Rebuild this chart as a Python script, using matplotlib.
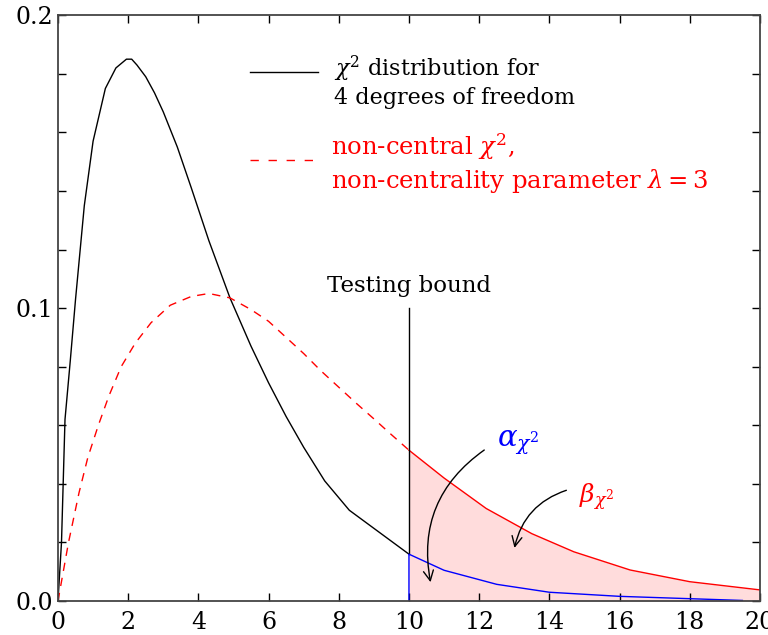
import numpy as np
import matplotlib
matplotlib.use('Agg')
import matplotlib.pyplot as plt
from matplotlib.ticker import MultipleLocator, FixedLocator, FixedFormatter

plt.rcParams['font.family'] = 'DejaVu Serif'
plt.rcParams['mathtext.fontset'] = 'dejavuserif'

# chi^2 pdf, 4 degrees of freedom
chi_x = [0, 0.1, 0.2, 0.35, 0.5, 0.75, 1.0, 1.35, 1.65, 1.95, 2.1, 2.25, 2.5, 2.75, 3.0, 3.4, 3.8, 4.3, 4.9, 5.5, 6.0, 6.5, 7.0, 7.6, 8.3, 10.0]
chi_y = [0, 0.020, 0.062, 0.082, 0.103, 0.135, 0.157, 0.175, 0.182, 0.185, 0.185, 0.183, 0.179, 0.1735, 0.167, 0.155, 0.141, 0.123, 0.1035, 0.087, 0.0745, 0.063, 0.0525, 0.041, 0.031, 0.016]

# non-central chi^2 (lambda = 3), dashed part up to the bound
nc_x = [0, 0.3, 0.6, 0.85, 1.15, 1.45, 1.8, 2.2, 2.65, 3.2, 3.8, 4.3, 4.9, 5.5, 6.0, 6.5, 7.0, 7.5, 8.0, 8.5, 9.0, 9.5, 10.0]
nc_y = [0, 0.020, 0.037, 0.049, 0.060, 0.070, 0.080, 0.088, 0.095, 0.101, 0.104, 0.105, 0.1035, 0.0995, 0.0955, 0.0900, 0.0845, 0.0785, 0.073, 0.0675, 0.0622, 0.0568, 0.0515]

# non-central tail (beta area)
beta_x = [10, 11, 12.2, 13.5, 14.7, 16.3, 18, 20]
beta_y = [0.0515, 0.042, 0.0316, 0.023, 0.0168, 0.0106, 0.0066, 0.0038]

# chi^2 tail (alpha area)
alpha_x = [10, 10, 11, 12.5, 14, 16, 18, 19.5]
alpha_y = [0, 0.016, 0.0105, 0.0057, 0.003, 0.0016, 0.0008, 0.0002]

bound = 10
bound_top = 0.1

fig = plt.figure(figsize=(7.68, 6.35), dpi=100)
ax = fig.add_axes([0.0755, 0.0535, 0.914, 0.9225])

ax.fill_between(beta_x, 0, beta_y, color='#ffdcdc', lw=0)
ax.plot(chi_x, chi_y, color='black', lw=1)
ax.plot(nc_x, nc_y, color='red', lw=1, dashes=(6, 5))
ax.plot(beta_x, beta_y, color='red', lw=1)
ax.plot([bound, bound], [alpha_y[1], bound_top], color='black', lw=1)
ax.plot(alpha_x, alpha_y, color='blue', lw=1)

# legend drawn by hand
ax.plot([5.48, 7.42], [0.1805, 0.1805], color='black', lw=1)
ax.text(7.85, 0.1775, '$\\chi^2$ distribution for\n4 degrees of freedom',
        fontsize=16, va='center', ha='left', color='black')
ax.plot([5.48, 7.42], [0.1505, 0.1505], color='red', lw=1, dashes=(6, 7))
ax.text(7.77, 0.1495, 'non-central $\\chi^2$,\nnon-centrality parameter $\\lambda = 3$',
        fontsize=17.5, va='center', ha='left', color='red')

ax.text(bound, 0.1055, 'Testing bound', fontsize=16.5, ha='center', va='baseline')

ax.text(12.5, 0.054, '$\\alpha_{\\chi^2}$', fontsize=21, color='blue', va='center')
ax.text(14.84, 0.0355, '$\\beta_{\\chi^2}$', fontsize=18, color='red', va='center')

ax.annotate('', xy=(10.63, 0.0055), xytext=(12.21, 0.0521),
            arrowprops=dict(arrowstyle='->', color='black', lw=1,
                            connectionstyle='arc3,rad=0.33', mutation_scale=18))
ax.annotate('', xy=(12.99, 0.0172), xytext=(14.56, 0.0381),
            arrowprops=dict(arrowstyle='->', color='black', lw=1,
                            connectionstyle='arc3,rad=0.3', mutation_scale=18))

ax.set_xlim(0, 20)
ax.set_ylim(0, 0.2)
ax.xaxis.set_major_locator(MultipleLocator(2))
ax.yaxis.set_major_locator(FixedLocator([0.0, 0.1, 0.2]))
ax.yaxis.set_major_formatter(FixedFormatter(['0.0', '0.1', '0.2']))
ax.yaxis.set_minor_locator(MultipleLocator(0.02))
ax.tick_params(which='both', direction='in', top=True, right=True, length=6, width=1, labelsize=17)
ax.tick_params(axis='x', pad=7)
for s in ax.spines.values():
    s.set_linewidth(1.3)
    s.set_color('#444444')

fig.savefig('out.png', dpi=100)
